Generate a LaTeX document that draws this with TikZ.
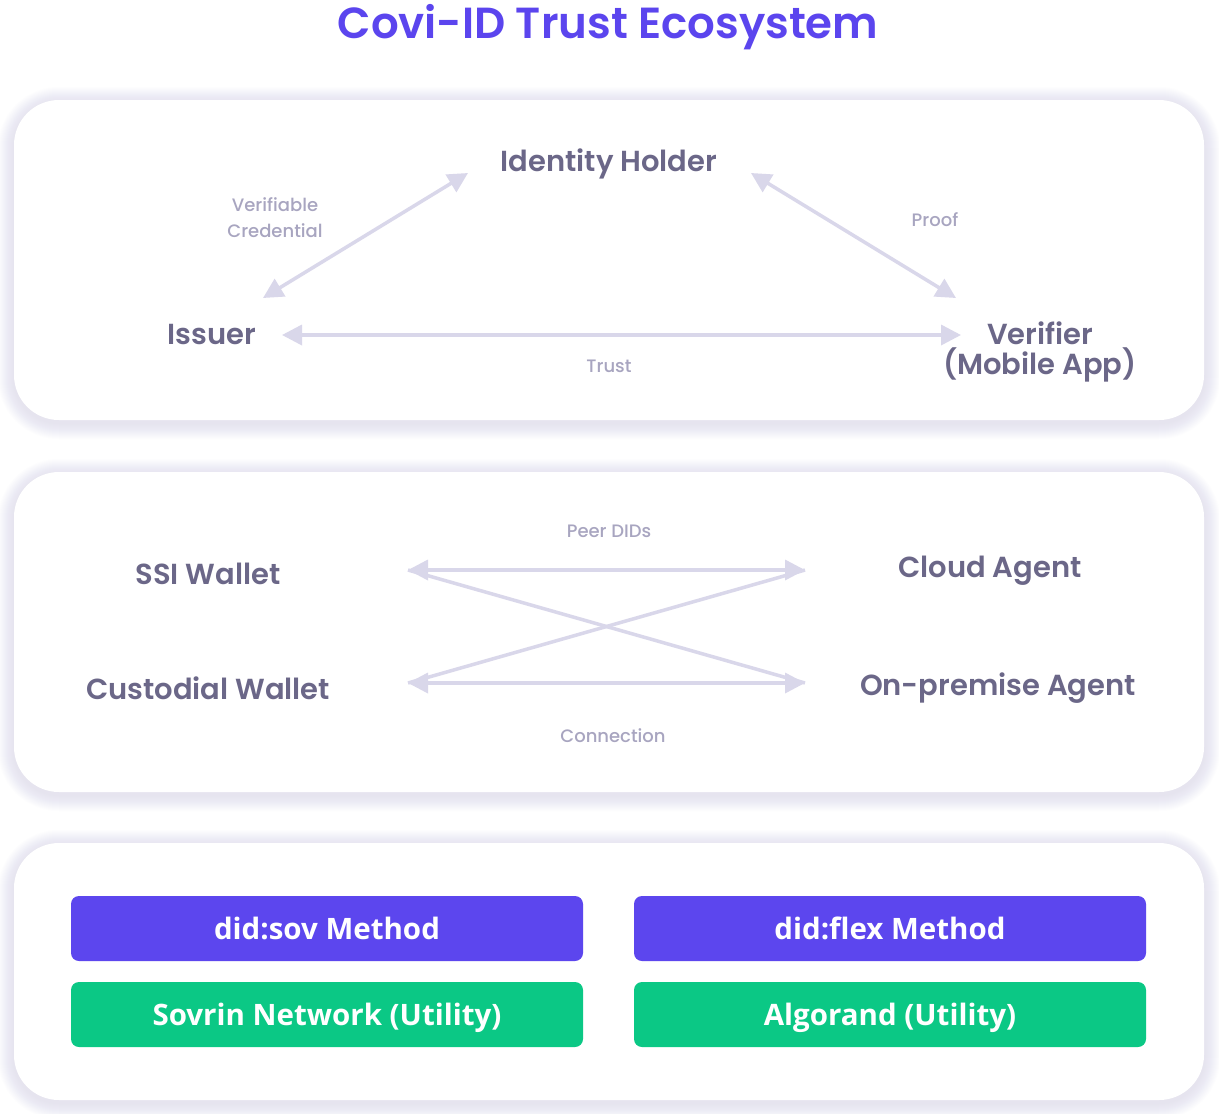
\documentclass[tikz,border=0pt]{standalone}
\usepackage{fontspec}
\usetikzlibrary{arrows.meta}
\setmainfont{Poppins}
\newfontfamily\labf{Poppins SemiBold}
\newfontfamily\smf{Poppins Medium}
\newfontfamily\boxf{Open Sans}
\definecolor{titc}{HTML}{5B45EE}
\definecolor{labc}{HTML}{6B6788}
\definecolor{smlc}{HTML}{A8A5C0}
\definecolor{arrc}{HTML}{D9D7EA}
\definecolor{shc}{HTML}{C9C6DE}
\definecolor{purp}{HTML}{5C46EE}
\definecolor{grn}{HTML}{0BC885}
\newcommand\shpanel[4]{%
  \foreach \i in {1,...,16}{
    \fill[shc, fill opacity=0.028, rounded corners={(45+\i)*1pt}] ({#1-\i},{#2-\i+3}) rectangle ({#3+\i},{#4+\i+3});
  }
  \fill[white, rounded corners=45pt] (#1,#2) rectangle (#3,#4);
}
\begin{document}
\begin{tikzpicture}[x=1pt,y=-1pt,
  lbl/.style={text=labc, font=\labf\fontsize{29}{31}\selectfont, align=center, inner sep=0pt, yshift=-3pt},
  sml/.style={text=smlc, font=\smf\fontsize{18}{26}\selectfont, align=center, inner sep=0pt},
  arr/.style={draw=arrc, line width=3.5pt, {Triangle[length=20pt,width=20pt]}-{Triangle[length=20pt,width=20pt]}},
  line/.style={draw=arrc, line width=3.5pt},
  mbox/.style={rounded corners=8pt, minimum width=512pt, minimum height=65pt, inner sep=0pt,
    text height=21pt, text depth=0pt,
    text=white, font=\boxf\bfseries\fontsize{29.5}{32}\selectfont},
]
\fill[white] (0,0) rectangle (1219,1114);
\useasboundingbox (0,0) rectangle (1219,1114);

\node[text=titc, font=\labf\fontsize{43.5}{48}\selectfont, inner sep=0pt, anchor=base] (title) at (608,38) {Covi-ID Trust Ecosystem};

\shpanel{14}{100}{1204}{420}
\shpanel{14}{472}{1204}{792}
\shpanel{14}{843}{1204}{1100}

% panel 1
\node[lbl] (holder) at (609,161) {Identity Holder};
\node[lbl] (issuer) at (212,332) {Issuer};
\node[lbl, font=\labf\fontsize{29}{30}\selectfont] (verifier) at (1040,349) {Verifier\\(Mobile App)};
\node[sml] (vc) at (275,218) {Verifiable\\Credential};
\node[sml] (proof) at (935,220) {Proof};
\node[sml] (trust) at (609,366) {Trust};

\coordinate (vcA) at (263,298);
\coordinate (vcB) at (468,173);
\coordinate (prA) at (751,173);
\coordinate (prB) at (956,298);
\coordinate (trA) at (282,335);
\coordinate (trB) at (961,335);
\draw[arr] (vcA) -- (vcB);
\draw[arr] (prA) -- (prB);
\draw[arr] (trA) -- (trB);

% panel 2
\node[lbl] (ssi) at (208,571) {SSI Wallet};
\node[lbl] (cust) at (208,685) {Custodial Wallet};
\node[lbl] (cloud) at (990,568) {Cloud Agent};
\node[lbl] (onprem) at (998,685) {On-premise Agent};
\node[sml] (peer) at (609,531) {Peer DIDs};
\node[sml] (conn) at (613,736) {Connection};

\coordinate (tl) at (408,570);
\coordinate (tr) at (805,570);
\coordinate (bl) at (408,683);
\coordinate (br) at (805,683);
\draw[line] (tl) -- (br);
\draw[line] (bl) -- (tr);
\draw[arr] (tl) -- (tr);
\draw[arr] (bl) -- (br);

% panel 3
\node[mbox, fill=purp] (sov) at (327,928.5) {did:sov Method};
\node[mbox, fill=purp] (flex) at (890,928.5) {did:flex Method};
\node[mbox, fill=grn] (sovrin) at (327,1014.5) {Sovrin Network (Utility)};
\node[mbox, fill=grn] (algo) at (890,1014.5) {Algorand (Utility)};
\end{tikzpicture}
\end{document}
